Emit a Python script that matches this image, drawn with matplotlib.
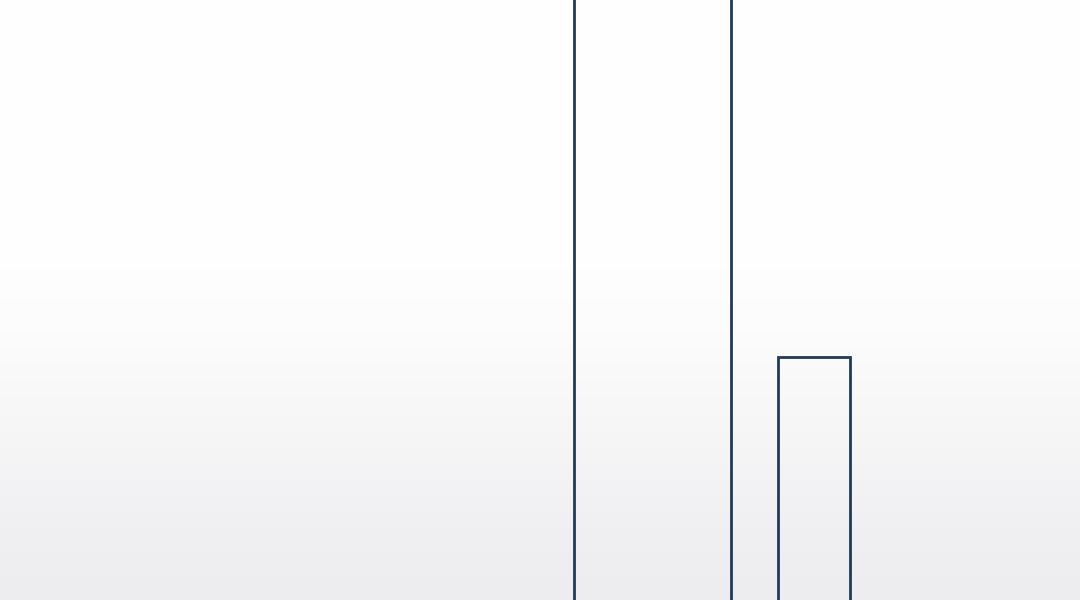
import numpy as np
import matplotlib
matplotlib.use("Agg")
import matplotlib.pyplot as plt
from matplotlib.colors import LinearSegmentedColormap

# Data
categories = ["A", "B"]
values = [130.0, 39.3]
bar_widths = [0.972, 0.446]

fig = plt.figure(figsize=(10.8, 6.0), dpi=100)
ax = fig.add_axes([0, 0, 1, 1])

x = np.arange(len(categories))
xlim = (-4.040, 2.647)
ylim = (-2.0, 100.0)
base = -10.0

# Background gradient (white top, light grey bottom)
cmap = LinearSegmentedColormap.from_list(
    "bg", [(0.0, "#ededef"), (0.12, "#f0f0f2"), (0.28, "#f6f6f7"),
           (0.45, "#fcfcfc"), (0.55, "#fefefe"), (1.0, "#ffffff")])
grad = np.linspace(0, 1, 256).reshape(-1, 1)
ax.imshow(grad, aspect="auto", cmap=cmap, origin="lower",
          extent=[xlim[0], xlim[1], ylim[0], ylim[1]], zorder=0)

heights = [v - base for v in values]
ax.bar(x, heights, width=bar_widths, bottom=base, facecolor="none",
       edgecolor="#223a57", linewidth=2.0, zorder=2)

ax.set_xlim(*xlim)
ax.set_ylim(*ylim)
ax.axis("off")

fig.savefig("out.png", dpi=100)
